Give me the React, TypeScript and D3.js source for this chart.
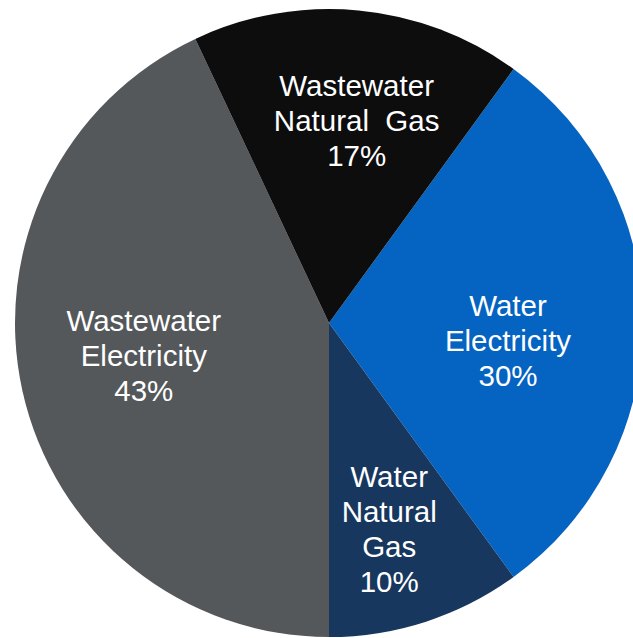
import React, { useEffect, useRef } from "react";
import * as d3 from "d3";

interface Slice {
    name: string[];
    value: number;
}

// slice order clockwise, starting at the Water Electricity edge
const names: string[][] = [
    ["Water", "Electricity"],
    ["Water", "Natural", "Gas"],
    ["Wastewater", "Electricity"],
    ["Wastewater", "Natural  Gas"],
];
const values: number[] = [30, 10, 43, 17];
const colors: string[] = ["#0563c1", "#17375e", "#54585a", "#0d0d0d"];
// label nudges (px) from the arc centroid
const labelNudge: [number, number][] = [
    [-19, 18],
    [-1, 18],
    [8, -11],
    [9, -5],
];

const data: Slice[] = names.map((name, i) => ({ name, value: values[i] }));

const App: React.FC = () => {
    const svgRef = useRef<SVGSVGElement | null>(null);

    useEffect(() => {
        if (!svgRef.current) return;
        const width = 633;
        const height = 638;
        const cx = 329;
        const cy = 323;
        const radius = 314;
        const labelRadius = 198;
        const lineHeight = 35;

        const svg = d3.select(svgRef.current);
        svg.selectAll("*").remove();
        svg.attr("width", width).attr("height", height);

        const total = d3.sum(values);
        const start = (36 * Math.PI) / 180;

        const pie = d3
            .pie<Slice>()
            .value((d) => d.value)
            .sort(null)
            .startAngle(start)
            .endAngle(start + 2 * Math.PI);

        const arc = d3
            .arc<d3.PieArcDatum<Slice>>()
            .innerRadius(0)
            .outerRadius(radius);

        const labelArc = d3
            .arc<d3.PieArcDatum<Slice>>()
            .innerRadius(labelRadius)
            .outerRadius(labelRadius);

        const g = svg.append("g").attr("transform", `translate(${cx},${cy})`);
        const arcs = pie(data);

        g.selectAll("path.slice")
            .data(arcs)
            .enter()
            .append("path")
            .attr("class", "slice")
            .attr("d", arc)
            .attr("fill", (_d, i) => colors[i]);

        // 라벨
        arcs.forEach((d, i) => {
            const [cx0, cy0] = labelArc.centroid(d);
            const lx = cx0 + labelNudge[i][0];
            const ly = cy0 + labelNudge[i][1];
            const lines = [...d.data.name, `${Math.round((d.data.value / total) * 100)}%`];
            const top = ly - ((lines.length - 1) * lineHeight) / 2;
            const text = g
                .append("text")
                .attr("text-anchor", "middle")
                .attr("fill", "#ffffff")
                .attr("font-family", "'Liberation Sans', Arial, sans-serif")
                .attr("font-size", 29.5)
                .style("white-space", "pre");
            lines.forEach((line, j) => {
                text.append("tspan")
                    .attr("x", lx)
                    .attr("y", top + j * lineHeight)
                    .attr("dy", "0.35em")
                    .text(line);
            });
        });
    }, []);

    return (
        <svg
            ref={svgRef}
            style={{ position: "absolute", left: 0, top: 0, display: "block" }}
        ></svg>
    );
};

export default App;
